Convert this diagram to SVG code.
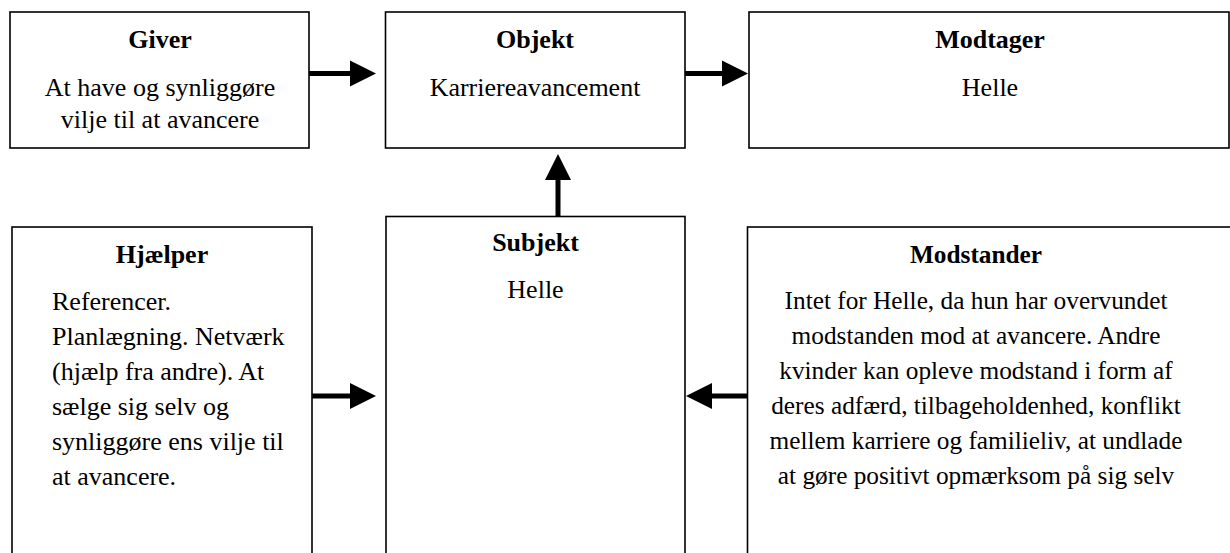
<svg xmlns="http://www.w3.org/2000/svg" width="1230" height="553" viewBox="0 0 1230 553">
  <style>
    .box { fill: #ffffff; stroke: #000000; stroke-width: 1.6; }
    .title { font-family: "Liberation Serif", "Times New Roman", serif; font-size: 26px; font-weight: bold; fill: #000000; text-anchor: middle; }
    .body { font-family: "Liberation Serif", "Times New Roman", serif; font-size: 26px; fill: #000000; }
    .mid { text-anchor: middle; }
    .small { font-size: 25.3px; }
    .link { stroke: #000000; stroke-width: 5; fill: none; marker-end: url(#head); }
  </style>
  <defs>
    <marker id="head" markerUnits="userSpaceOnUse" markerWidth="27" markerHeight="27" refX="0" refY="13" orient="auto" overflow="visible">
      <path d="M0,0 L26,13 L0,26 Z" fill="#000000"/>
    </marker>
  </defs>

  <rect width="1230" height="553" fill="#ffffff"/>

  <g id="giver">
    <rect class="box" x="10" y="12" width="299" height="136"/>
    <text class="title" x="160" y="48">Giver</text>
    <text class="body mid" x="160" y="96">At have og synliggøre</text>
    <text class="body mid" x="160" y="128">vilje til at avancere</text>
  </g>

  <g id="objekt">
    <rect class="box" x="385.5" y="12" width="299.5" height="136"/>
    <text class="title" x="535" y="48">Objekt</text>
    <text class="body mid" x="535" y="96">Karriereavancement</text>
  </g>

  <g id="modtager">
    <rect class="box" x="749" y="12" width="480" height="136"/>
    <text class="title" x="990" y="48">Modtager</text>
    <text class="body mid" x="990" y="96">Helle</text>
  </g>

  <g id="hjaelper">
    <rect class="box" x="12" y="227" width="300" height="340"/>
    <text class="title" x="162" y="263">Hjælper</text>
    <text class="body" x="52" y="310">Referencer.</text>
    <text class="body" x="52" y="345">Planlægning. Netværk</text>
    <text class="body" x="52" y="380">(hjælp fra andre). At</text>
    <text class="body" x="52" y="415">sælge sig selv og</text>
    <text class="body" x="52" y="450">synliggøre ens vilje til</text>
    <text class="body" x="52" y="485">at avancere.</text>
  </g>

  <g id="subjekt">
    <rect class="box" x="386" y="216.5" width="299" height="350"/>
    <text class="title" x="535.5" y="251">Subjekt</text>
    <text class="body mid" x="535.5" y="298">Helle</text>
  </g>

  <g id="modstander">
    <rect class="box" x="747.5" y="227" width="500" height="340"/>
    <text class="title small" x="976" y="263">Modstander</text>
    <text class="body mid small" x="976" y="309">Intet for Helle, da hun har overvundet</text>
    <text class="body mid small" x="976" y="344">modstanden mod at avancere. Andre</text>
    <text class="body mid small" x="976" y="379">kvinder kan opleve modstand i form af</text>
    <text class="body mid small" x="976" y="414">deres adfærd, tilbageholdenhed, konflikt</text>
    <text class="body mid small" x="976" y="449">mellem karriere og familieliv, at undlade</text>
    <text class="body mid small" x="976" y="484">at gøre positivt opmærksom på sig selv</text>
  </g>

  <g id="connectors">
    <line class="link" x1="309" y1="73.5" x2="350" y2="73.5"/>
    <line class="link" x1="685" y1="73.5" x2="722" y2="73.5"/>
    <line class="link" x1="558" y1="216" x2="558" y2="180"/>
    <line class="link" x1="312" y1="396" x2="350" y2="396"/>
    <line class="link" x1="747" y1="396" x2="712" y2="396"/>
  </g>
</svg>
